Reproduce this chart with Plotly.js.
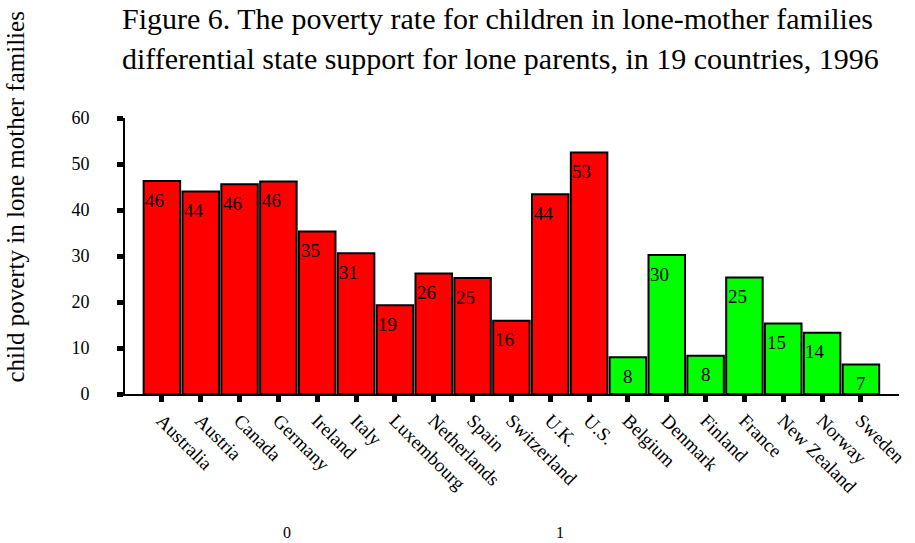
<!DOCTYPE html>
<html>
<head>
<meta charset="utf-8">
<script src="https://cdn.plot.ly/plotly-3.0.1.min.js"></script>
<style>html,body{margin:0;padding:0;background:#fff;}#chart{width:915px;height:543px;}</style>
</head>
<body>
<div id="chart"></div>
<script>
// Group 0: less differential support (red); Group 1: more differential support (green)
const countries0 = ["Australia","Austria","Canada","Germany","Ireland","Italy","Luxembourg","Netherlands","Spain","Switzerland","U.K.","U.S."];
const values0 = [46.3, 44.0, 45.6, 46.2, 35.3, 30.6, 19.3, 26.2, 25.2, 15.9, 43.4, 52.5];
const labels0 = ["46","44","46","46","35","31","19","26","25","16","44","53"];

const countries1 = ["Belgium","Denmark","Finland","France","New Zealand","Norway","Sweden"];
const values1 = [8.0, 30.2, 8.3, 25.3, 15.3, 13.3, 6.4];
const labels1 = ["8","30","8","25","15","14","7"];

const groupLabels = ["0", "1"];
const yTicks = [0, 10, 20, 30, 40, 50, 60];

const titleLine1 = "Figure 6. The poverty rate for children in lone-mother families";
const titleLine2 = "differential state support for lone parents, in 19 countries, 1996";
const yTitle = "child poverty in lone mother families";

const serif = "Liberation Serif, Times New Roman, serif";
const allCountries = countries0.concat(countries1);
const idx0 = countries0.map((_, i) => i);
const idx1 = countries1.map((_, i) => i + countries0.length);

const barLine = {color: "#000", width: 2};
const traces = [
  {type: "bar", x: idx0, y: values0, marker: {color: "#ff0000", line: barLine}, width: 0.94, hoverinfo: "skip"},
  {type: "bar", x: idx1, y: values1, marker: {color: "#00ff00", line: barLine}, width: 0.94, hoverinfo: "skip"}
];

const annotations = [];
function addLabels(idx, vals, labs) {
  idx.forEach((xi, k) => {
    const small = vals[k] < 10;
    annotations.push({
      x: small ? xi : xi - 0.48, y: vals[k], xref: "x", yref: "y",
      text: labs[k], showarrow: false,
      xanchor: small ? "center" : "left", yanchor: "middle", yshift: -19,
      font: {family: serif, size: 19, color: "#000"}
    });
  });
}
addLabels(idx0, values0, labels0);
addLabels(idx1, values1, labels1);

const gFont = {family: serif, size: 16, color: "#000"};
annotations.push({xref: "paper", yref: "paper", x: 0.209, y: -0.5, text: groupLabels[0], showarrow: false, xanchor: "center", yanchor: "middle", font: gFont});
annotations.push({xref: "paper", yref: "paper", x: 0.562, y: -0.5, text: groupLabels[1], showarrow: false, xanchor: "center", yanchor: "middle", font: gFont});

const tFont = {family: serif, size: 30, color: "#000"};
annotations.push({xref: "paper", yref: "paper", x: -0.006, y: 1.36, text: titleLine1, showarrow: false, xanchor: "left", yanchor: "middle", font: tFont});
annotations.push({xref: "paper", yref: "paper", x: -0.006, y: 1.215, text: titleLine2, showarrow: false, xanchor: "left", yanchor: "middle", font: tFont});

annotations.push({xref: "paper", yref: "paper", x: -0.142, y: 0.712, text: yTitle, textangle: -90, showarrow: false, xanchor: "center", yanchor: "middle", font: {family: serif, size: 25, color: "#000"}});

const layout = {
  width: 915, height: 543,
  margin: {l: 125, r: 16, t: 118, b: 149},
  paper_bgcolor: "#fff", plot_bgcolor: "#fff",
  showlegend: false,
  xaxis: {
    range: [-0.95, 18.98],
    tickvals: idx0.concat(idx1), ticktext: allCountries,
    tickangle: 45,
    ticks: "outside", ticklen: 6, tickwidth: 5, tickcolor: "#000",
    showline: true, linecolor: "#000", linewidth: 2,
    showgrid: false, zeroline: false,
    tickfont: {family: serif, size: 19, color: "#000"}
  },
  yaxis: {
    range: [0, 60],
    tickvals: yTicks,
    ticks: "outside", ticklen: 6, tickwidth: 5, tickcolor: "#000",
    ticklabelstandoff: 24,
    showline: true, linecolor: "#000", linewidth: 2,
    showgrid: false, zeroline: false,
    tickfont: {family: serif, size: 18, color: "#000"}
  },
  annotations: annotations
};

Plotly.newPlot("chart", traces, layout, {displayModeBar: false, staticPlot: true});
</script>
</body>
</html>
